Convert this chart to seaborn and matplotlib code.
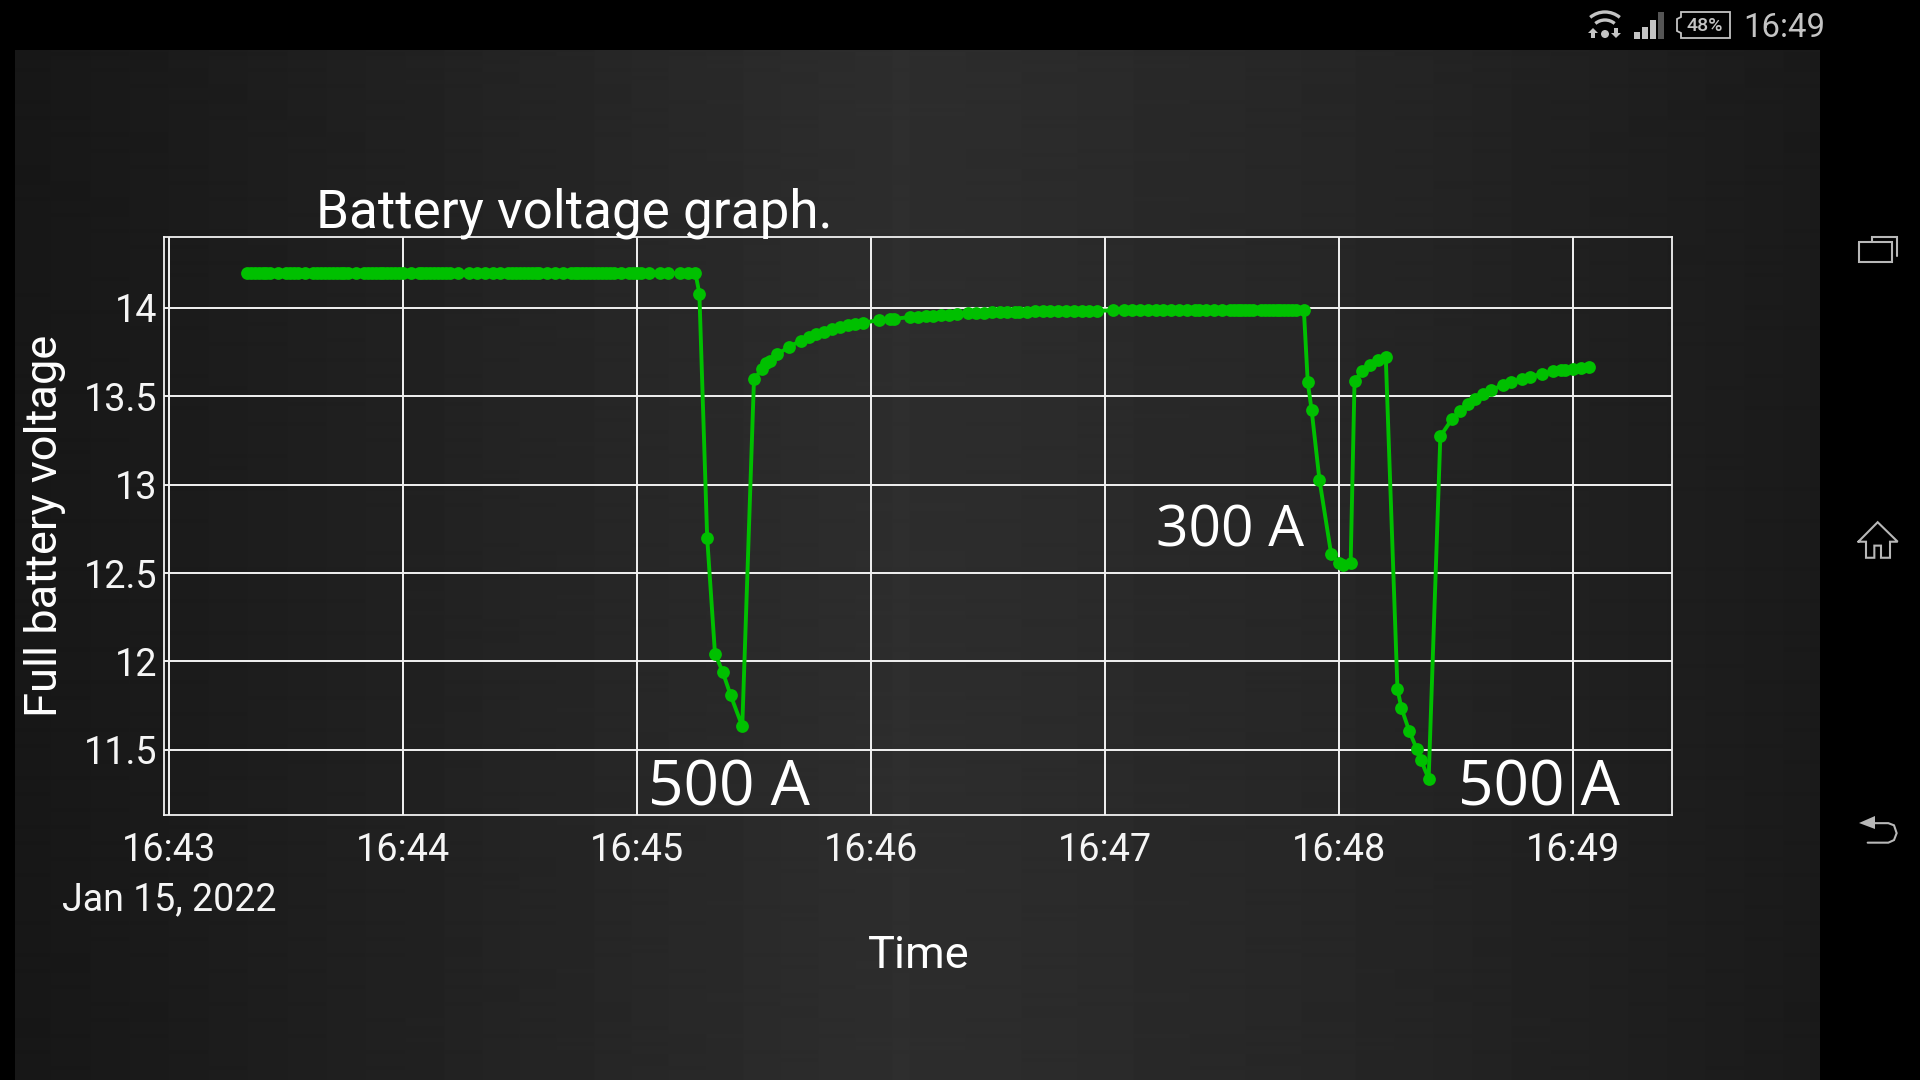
# Battery voltage log, screenshot of the phone app

import matplotlib
matplotlib.use("Agg")
import matplotlib.pyplot as plt
import numpy as np
import pandas as pd
import seaborn as sns
from matplotlib.patches import Arc, Circle, Polygon, Rectangle

# seconds after 16:43:00
flat1_sec = [20, 21, 22, 23, 24, 25, 26, 28, 30, 31, 32, 33, 35, 37, 38, 39, 40, 41, 42, 43, 44, 45, 46, 48,
             50, 51, 52, 53, 54, 55, 56, 57, 58, 59, 60, 62, 64, 65, 66, 67, 68, 69, 70, 71, 72, 74, 77, 79,
             81, 83, 85, 87, 88, 89, 90, 91, 92, 93, 94, 95, 97, 99, 101, 103, 104, 105, 106, 107, 108, 109,
             110, 111, 112, 113, 114, 116, 118, 119, 120, 121, 123, 126, 128, 131, 133, 135]
flat1_volt = [14.195, 14.195, 14.195, 14.195, 14.195, 14.195, 14.195, 14.195, 14.195, 14.195, 14.195, 14.195,
              14.195, 14.195, 14.195, 14.195, 14.195, 14.195, 14.195, 14.195, 14.195, 14.195, 14.195, 14.195,
              14.195, 14.195, 14.195, 14.195, 14.195, 14.195, 14.195, 14.195, 14.195, 14.195, 14.195, 14.195,
              14.195, 14.195, 14.195, 14.195, 14.195, 14.195, 14.195, 14.195, 14.195, 14.195, 14.195, 14.195,
              14.195, 14.195, 14.195, 14.195, 14.195, 14.195, 14.195, 14.195, 14.195, 14.195, 14.195, 14.195,
              14.195, 14.195, 14.195, 14.195, 14.195, 14.195, 14.195, 14.195, 14.195, 14.195, 14.195, 14.195,
              14.195, 14.195, 14.195, 14.195, 14.195, 14.195, 14.195, 14.195, 14.195, 14.195, 14.195, 14.195,
              14.195, 14.195]

drop1_sec = [136, 138, 140, 142, 144, 147, 150, 152, 153, 154, 156, 159, 162, 164, 166, 168, 170, 172, 174, 176]
drop1_volt = [14.08, 12.7, 12.045, 11.94, 11.81, 11.634, 13.595, 13.653, 13.685, 13.7, 13.736, 13.78, 13.813,
              13.834, 13.851, 13.864, 13.88, 13.889, 13.9, 13.908]

flat2_sec = [178, 182, 185, 186, 190, 192, 194, 196, 198, 200, 202, 205, 207, 209, 211, 213, 215, 217, 218,
             220, 222, 224, 226, 228, 230, 232, 234, 236, 238, 242, 245, 247, 249, 251, 253, 255, 257, 259,
             261, 263, 264, 266, 268, 270, 272, 273, 274, 275, 276, 277, 278, 280, 281, 282, 283, 284, 285,
             286, 287, 288, 289, 291]
flat2_volt = [13.915, 13.93, 13.936, 13.938, 13.947, 13.95, 13.952, 13.954, 13.958, 13.96, 13.963, 13.968,
              13.97, 13.972, 13.974, 13.975, 13.976, 13.977, 13.977, 13.978, 13.979, 13.98, 13.98, 13.98,
              13.981, 13.982, 13.982, 13.983, 13.983, 13.985, 13.985, 13.985, 13.985, 13.985, 13.985, 13.985,
              13.986, 13.986, 13.986, 13.987, 13.987, 13.987, 13.988, 13.988, 13.988, 13.988, 13.989, 13.989,
              13.989, 13.989, 13.99, 13.99, 13.99, 13.99, 13.99, 13.99, 13.99, 13.99, 13.99, 13.99, 13.99, 13.99]

drop2_sec = [292, 293, 295, 298, 300, 301, 303, 304, 306, 308, 310, 312, 315, 316, 318, 320, 321, 323, 326, 329,
             331, 333, 335, 337, 339, 342, 344, 347, 349, 352, 355, 357, 358, 360, 362, 364]
drop2_volt = [13.579, 13.42, 13.027, 12.608, 12.558, 12.547, 12.558, 13.587, 13.643, 13.679, 13.705, 13.723, 11.845,
              11.738, 11.608, 11.503, 11.445, 11.336, 13.273, 13.371, 13.415, 13.453, 13.484, 13.51, 13.535,
              13.562, 13.578, 13.596, 13.61, 13.627, 13.64, 13.646, 13.648, 13.652, 13.66, 13.665]

x_ticks = [0, 60, 120, 180, 240, 300, 360]
x_labels = ["16:43", "16:44", "16:45", "16:46", "16:47", "16:48", "16:49"]
y_ticks = [11.5, 12, 12.5, 13, 13.5, 14]
y_labels = ["11.5", "12", "12.5", "13", "13.5", "14"]

df = pd.DataFrame({"Time": flat1_sec + drop1_sec + flat2_sec + drop2_sec,
                   "Voltage": flat1_volt + drop1_volt + flat2_volt + drop2_volt})

sns.set_theme(style="dark")
plt.rcParams["font.family"] = ["Roboto", "DejaVu Sans"]
WIDTH, HEIGHT = 1920, 1080
fig = plt.figure(figsize=(19.2, 10.8), dpi=100, facecolor="black")

# wallpaper panel behind the app, only changes left to right
bg = fig.add_axes([0, 0, 1, 1], zorder=0)
bg.axis("off")
gx = np.linspace(15, 1820, 1805)
shade = np.interp(gx, [15, 450, 900, 1350, 1820], [0x17, 0x22, 0x2e, 0x26, 0x1a]) / 255
bg.imshow(shade[np.newaxis, :], cmap="gray", vmin=0, vmax=1, extent=(15, 1820, 1080, 50), aspect="auto",
          interpolation="bilinear")
bg.set_xlim(0, WIDTH)
bg.set_ylim(HEIGHT, 0)

# plot area
left, right, top, bottom = 164, 1672, 237, 815
ax = fig.add_axes([left / WIDTH, 1 - bottom / HEIGHT, (right - left) / WIDTH, (bottom - top) / HEIGHT], zorder=1)
ax.patch.set_alpha(0)
sns.lineplot(data=df, x="Time", y="Voltage", ax=ax, color="#00c000", linewidth=2.8, marker="o",
             markersize=9.2, markeredgewidth=0, errorbar=None, sort=False, zorder=3)
ax.set_xlim(-1.28, 385.4)
ax.set_ylim(11.132, 14.4)
ax.set_xticks(x_ticks, x_labels)
ax.set_yticks(y_ticks, y_labels)
ax.grid(True, color="#f2f2f2", linewidth=1.4)
ax.set_axisbelow(True)
ax.tick_params(length=0, labelsize=27.2, labelcolor="#f5f5f5")
ax.tick_params(axis="y", pad=5)
ax.tick_params(axis="x", pad=12)
for s in ax.spines.values():
    s.set_visible(True)
    s.set_color("#f2f2f2")
    s.set_linewidth(1.3)

ax.set_title("Battery voltage graph.", fontsize=38.2, color="white", loc="left", x=(316 - left) / (right - left), pad=7)
ax.set_xlabel("Time", fontsize=32.6, color="white")
ax.xaxis.set_label_coords((919 - left) / (right - left), -(935 - bottom) / (bottom - top))
ax.set_ylabel("Full battery voltage", fontsize=32.6, color="white")
ax.yaxis.set_label_coords(-(left - 66) / (right - left), 0.5)

ann = dict(family="Open Sans", color="white", va="baseline", ha="left", zorder=4)
ax.text(122.7, 11.183, "500 A", fontsize=44.7, **ann)
ax.text(330.4, 11.183, "500 A", fontsize=44.7, **ann)
ax.text(253, 12.65, "300 A", fontsize=40.9, **ann)

# status bar and nav buttons, in screen pixels
ui = fig.add_axes([0, 0, 1, 1], zorder=2)
ui.axis("off")
ui.patch.set_alpha(0)
ui.text(169, 900, "Jan 15, 2022", fontsize=27, color="#f5f5f5", ha="center", va="center")

grey = "#c4c4c4"
ui.text(1784, 28, "16:49", fontsize=23.7, color=grey, ha="center", va="center")
for r in [23, 15]:
    ui.add_patch(Arc((1605, 35), 2 * r, 2 * r, theta1=230, theta2=310, color=grey, lw=2.4))
ui.add_patch(Circle((1605, 34), 4, color=grey, lw=0))
ui.add_patch(Polygon([(1593, 28), (1598, 33), (1595, 33), (1595, 38), (1591, 38), (1591, 33), (1588, 33)], color=grey, lw=0))
ui.add_patch(Polygon([(1616, 38), (1611, 33), (1614, 33), (1614, 28), (1618, 28), (1618, 33), (1621, 33)], color=grey, lw=0))
for bx, by, col in [(1634, 32, grey), (1642, 27, grey), (1650, 20, grey), (1658, 12, "#555555")]:
    ui.add_patch(Rectangle((bx, by), 6, 38.5 - by, color=col, lw=0))
ui.add_patch(Polygon([(1681, 12), (1730, 12), (1730, 38), (1681, 38), (1681, 33), (1677, 31), (1677, 19), (1681, 17)],
                     fill=False, edgecolor=grey, lw=1.3))
ui.text(1705, 26, "48%", fontsize=14, color=grey, ha="center", va="center", fontweight="medium")

def nav(points, **kw):
    # points are from the zoomed crop of the nav column, 3x wide and 2.306x tall
    pts = np.array(points, dtype=float)
    ui.plot(1820 + pts[:, 0] / 3, 200 + pts[:, 1] / 2.306, color="#b8b8b8", lw=1.5, solid_joinstyle="miter", **kw)

nav([(118, 98), (215, 98), (215, 143), (118, 143), (118, 98)])
nav([(155, 98), (155, 86), (230, 86), (230, 128)])
nav([(115, 788), (173, 743), (233, 788), (210, 788), (210, 825), (183, 825), (183, 797), (163, 797), (163, 825),
     (138, 825), (138, 788), (115, 788)])
nav([(165, 1437), (205, 1437), (222, 1442), (230, 1460), (222, 1476), (205, 1482), (143, 1482)])
ui.add_patch(Polygon([(1859, 823), (1875, 816), (1875, 829)], color="#b8b8b8", lw=0))
ui.set_xlim(0, WIDTH)
ui.set_ylim(HEIGHT, 0)

fig.savefig("out.png", dpi=100, facecolor="black")
